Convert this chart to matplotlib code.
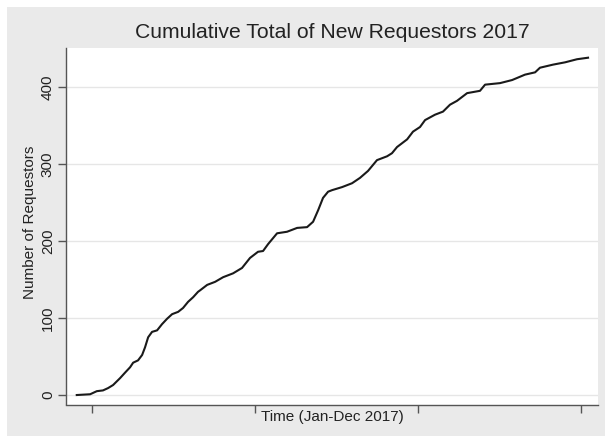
import numpy as np
import matplotlib
matplotlib.use('Agg')
import matplotlib.pyplot as plt
from matplotlib.patches import Rectangle

# Cumulative count of new requestors
# (x is time in days, y is the running total)
days = [40.6, 48.8, 52.9, 56.7, 59.8, 62.9, 67.2, 70.2, 73.3, 75.2,
        78.2, 80.7, 82.5, 84.4, 86.8, 89.9, 92.9, 96.0, 99.1, 102.8,
        105.8, 108.9, 112.0, 115.0, 116.3, 120.6, 125.5, 130.4, 136.5, 142.0,
        146.9, 151.8, 154.9, 158.0, 163.5, 169.6, 175.8, 181.9, 185.6, 188.7,
        191.7, 194.8, 197.2, 203.4, 209.5, 214.4, 219.3, 224.8, 231.0, 234.0,
        237.1, 243.3, 246.9, 251.2, 254.3, 260.4, 265.3, 269.6, 273.9, 280.1,
        288.0, 291.1, 300.3, 307.7, 315.6, 321.8, 324.8, 332.8, 340.2, 347.5,
        354.3]
requestors = [0, 1, 5, 6, 9, 13, 22, 29, 36, 42,
              45, 52, 62, 75, 82, 84, 92, 99, 105, 108,
              113, 121, 127, 134, 136, 143, 147, 153, 158, 165,
              178, 186, 187, 196, 210, 212, 217, 218, 225, 240,
              256, 264, 266, 270, 275, 282, 291, 305, 310, 314,
              322, 332, 342, 348, 357, 364, 368, 377, 382, 392,
              395, 403, 405, 409, 416, 419, 425, 429, 432, 436,
              438]
x_ticks = [50, 150, 250, 350]
y_ticks = [0, 100, 200, 300, 400]

plt.rcParams['font.family'] = ['Liberation Sans', 'DejaVu Sans']

W, H = 605, 436
fig = plt.figure(figsize=(W / 100, H / 100), dpi=100, facecolor='white')
# Stata-like grey graph region, with a thin white margin top and left
fig.patches.append(Rectangle((7 / W, 0), 1 - 7 / W, 1 - 7 / H,
                             transform=fig.transFigure, facecolor='#eaeaea',
                             edgecolor='none', zorder=-10))

ax = fig.add_axes([66 / W, 1 - 404.5 / H, (598 - 66) / W, (404.5 - 48) / H])
ax.set_facecolor('white')

ax.plot(days, requestors, color='#1a1a1a', linewidth=1.5, zorder=3)

ax.set_xlim(34.0, 360.4)
ax.set_ylim(-12.3, 450.6)
ax.set_xticks(x_ticks)
ax.set_xticklabels([])
ax.set_yticks(y_ticks)
ax.set_yticklabels([str(v) for v in y_ticks], rotation=90, va='center',
                   fontsize=11, color='#222222')
ax.grid(axis='y', color='#e6e6e6', linewidth=1.0, zorder=0)
ax.grid(axis='x', visible=False)

for side in ['top', 'right']:
    ax.spines[side].set_visible(False)
for side in ['left', 'bottom']:
    ax.spines[side].set_color('#555555')
    ax.spines[side].set_linewidth(1.0)
ax.tick_params(axis='both', direction='out', length=6, width=1.0,
               color='#555555', pad=2)

fig.text(30 / W, 1 - 222 / H, 'Number of Requestors', rotation=90,
         ha='center', va='center', fontsize=11, color='#222222')
fig.text(332 / W, 1 - 417 / H, 'Time (Jan-Dec 2017)', ha='center',
         va='center', fontsize=11, color='#222222')
fig.text(332 / W, 1 - 32 / H, 'Cumulative Total of New Requestors 2017',
         ha='center', va='center', fontsize=15.2, color='#222222')

fig.savefig('out.png', dpi=100, facecolor=fig.get_facecolor())
